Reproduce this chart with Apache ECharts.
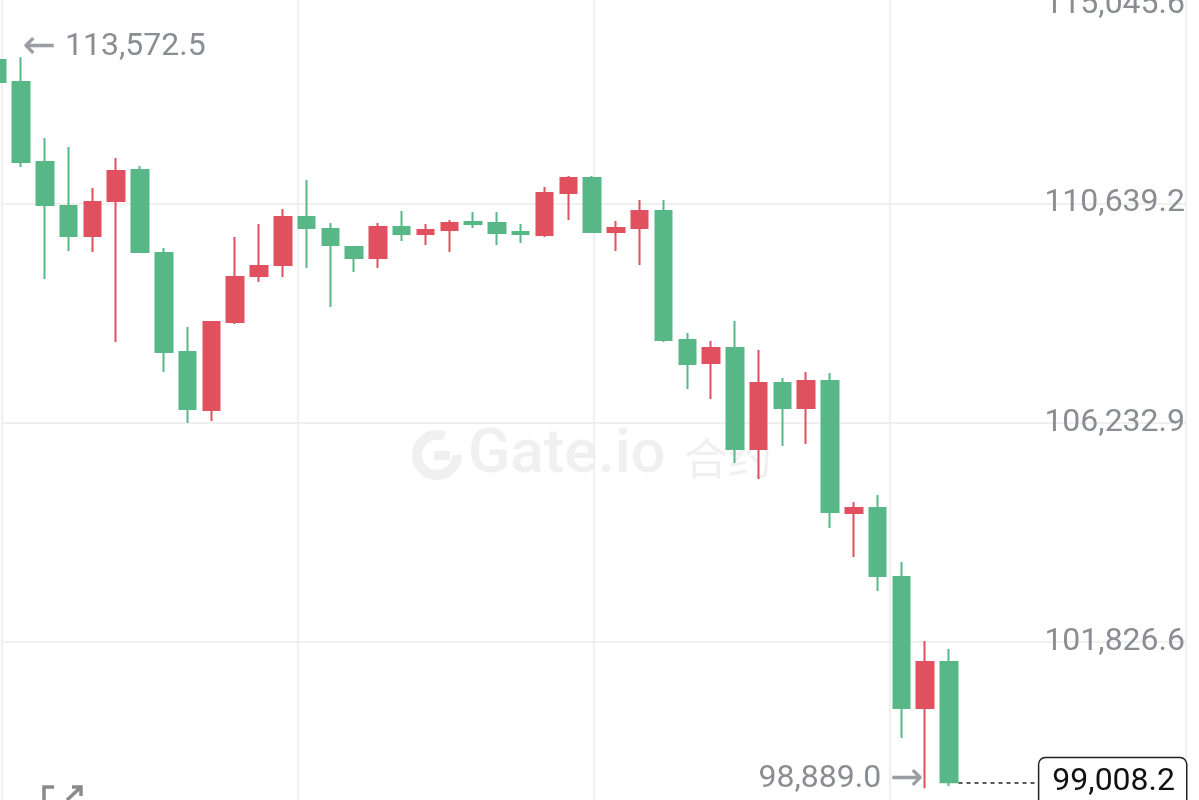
<!DOCTYPE html>
<html>
<head>
<meta charset="utf-8">
<script src="https://cdn.jsdelivr.net/npm/echarts@6/dist/echarts.min.js"></script>
<style>
  html, body { margin: 0; padding: 0; background: #fff; }
  #main { width: 1199px; height: 800px; }
</style>
</head>
<body>
<div id="main"></div>
<script>
// candle slots (time steps), the first one is cut off at the left edge
const candleIndex = [0, 1, 2, 3, 4, 5, 6, 7, 8, 9, 10, 11, 12, 13, 14, 15, 16, 17, 18, 19, 20,
  21, 22, 23, 24, 25, 26, 27, 28, 29, 30, 31, 32, 33, 34, 35, 36, 37, 38, 39, 40];
const openPrices = [113517.7, 113075.8, 111468.8, 110585.0, 109982.4, 110685.4, 111308.1, 109640.9,
  107652.3, 106487.2, 108254.9, 109178.9, 109399.8, 110364.0, 110123.0, 109761.4, 109540.5, 110163.2,
  110022.5, 110102.9, 110263.6, 110243.5, 110062.7, 110002.5, 110846.1, 111147.4, 110062.7, 110143.1,
  110484.5, 107893.3, 107431.3, 107732.6, 105703.8, 107029.6, 106527.4, 107069.8, 104418.3, 104518.7,
  103132.7, 100501.3, 101425.3];
const closePrices = [113075.8, 111468.8, 110605.1, 109982.4, 110665.3, 111288.0, 109661.0, 107652.3,
  106507.3, 108254.9, 109158.8, 109379.8, 110364.0, 110143.1, 109801.6, 109540.5, 110163.2, 110022.5,
  110102.9, 110243.5, 110223.4, 110042.6, 110022.5, 110846.1, 111147.4, 110062.7, 110143.1, 110484.5,
  107893.3, 107411.2, 107732.6, 105703.8, 107029.6, 106527.4, 107069.8, 104438.4, 104518.7, 103152.8,
  100501.3, 101425.3, 99008.2];
const lowPrices = [113035.6, 111368.4, 109118.6, 109681.1, 109661.0, 107853.1, 109640.9, 107250.5,
  106226.1, 106266.3, 108214.7, 109058.4, 109158.8, 109339.6, 108556.2, 109259.2, 109339.6, 109881.9,
  109801.6, 109661.0, 110143.1, 109801.6, 109841.8, 109962.3, 110303.8, 110042.6, 109681.1, 109399.8,
  107853.1, 106909.1, 106708.2, 105422.6, 105101.2, 105764.1, 105804.3, 104117.0, 103534.4, 102851.5,
  99898.7, 98889.0, 98934.5];
const highPrices = [113557.9, 113572.5, 111950.9, 111770.1, 110946.5, 111549.2, 111388.5, 109741.3,
  108154.5, 108275.0, 109962.3, 110223.4, 110524.7, 111107.2, 110243.5, 109781.5, 110243.5, 110484.5,
  110223.4, 110303.8, 110464.5, 110464.5, 110223.4, 110966.6, 111187.6, 111187.6, 110283.7, 110705.5,
  110705.5, 108033.9, 107873.2, 108275.0, 107692.4, 107130.0, 107250.5, 107230.4, 104639.2, 104779.8,
  103434.0, 101847.1, 101686.4];
const priceTicks = [101826.6, 106232.9, 110639.2, 115045.6];
const timeTicks = [0.2, 12.64, 25.08, 37.52, 49.96];

const UP = '#e0505f';
const DOWN = '#58b786';
const GRAY = '#8a8d92';
const X_MIN = 0.2, X_MAX = 49.96;

const fmt = v => Number(v).toLocaleString('en-US', { minimumFractionDigits: 1, maximumFractionDigits: 1 });

const candles = candleIndex.map((x, i) => [x, openPrices[i], closePrices[i], lowPrices[i], highPrices[i]]);
const lastX = candleIndex[candleIndex.length - 1];
const lastClose = closePrices[closePrices.length - 1];
const topTick = priceTicks[priceTicks.length - 1];

// arrow glyphs come from DejaVu, Roboto draws them too small
const arrowRich = {
  arr: { fontFamily: 'DejaVu Sans', fontSize: 40, color: '#9a9da2', padding: [0, 9, 0, 9] }
};

const chart = echarts.init(document.getElementById('main'), null, { renderer: 'canvas' });

const option = {
  backgroundColor: '#fff',
  animation: false,
  textStyle: { fontFamily: 'Roboto' },
  grid: { left: 2, right: 13, top: -16, bottom: 0, outerBoundsMode: 'none' },
  xAxis: {
    type: 'value',
    min: X_MIN,
    max: X_MAX,
    axisLine: { show: false },
    axisTick: { show: false, customValues: timeTicks },
    axisLabel: { show: false },
    splitLine: { show: true, lineStyle: { color: '#ebebeb', width: 1.5 } }
  },
  yAxis: {
    type: 'value',
    position: 'right',
    min: 98653,
    max: topTick,
    axisLine: { show: false },
    axisTick: { show: false, customValues: priceTicks },
    axisLabel: {
      inside: true,
      margin: 1,
      customValues: priceTicks,
      color: GRAY,
      fontSize: 32,
      fontFamily: 'Roboto',
      formatter: v => (v === topTick ? '{top|' + fmt(v) + '}' : fmt(v)),
      rich: { top: { padding: [42, 0, 0, 0], fontSize: 32, color: GRAY, fontFamily: 'Roboto' } }
    },
    splitLine: { show: true, lineStyle: { color: '#ebebeb', width: 1.5 } }
  },
  graphic: [
    // watermark
    { type: 'arc', z: -10, silent: true,
      shape: { cx: 437, cy: 455, r: 20, startAngle: 0, endAngle: Math.PI * 1.62, clockwise: true },
      style: { stroke: '#f0f0f0', lineWidth: 10, fill: null } },
    { type: 'rect', z: -10, silent: true, shape: { x: 434, y: 451, width: 16, height: 9 }, style: { fill: '#f0f0f0' } },
    { type: 'text', z: -10, silent: true, x: 468, y: 456,
      style: { text: 'Gate.io', font: '500 62px Roboto', fill: '#f0f0f0', verticalAlign: 'middle' } },
    { type: 'text', z: -10, silent: true, x: 684, y: 458,
      style: { text: '合约', font: '44px "Noto Sans CJK SC"', fill: '#f0f0f0', verticalAlign: 'middle' } },
    // expand icon
    { type: 'polyline', silent: true, shape: { points: [[44, 801], [44, 787], [54, 787]] },
      style: { stroke: '#8a8a8a', lineWidth: 3.5, fill: null } },
    { type: 'polyline', silent: true, shape: { points: [[67, 800], [81, 787]] },
      style: { stroke: '#8a8a8a', lineWidth: 3.5, fill: null } },
    { type: 'polyline', silent: true, shape: { points: [[72, 787], [81, 787], [81, 796]] },
      style: { stroke: '#8a8a8a', lineWidth: 3.5, fill: null } }
  ],
  series: [
    {
      type: 'candlestick',
      clip: false,
      barWidth: 17,
      data: candles,
      itemStyle: {
        color: UP,
        color0: DOWN,
        borderColor: UP,
        borderColor0: DOWN,
        borderWidth: 2
      },
      markPoint: {
        silent: true,
        symbol: 'circle',
        symbolSize: 1,
        itemStyle: { color: 'rgba(0,0,0,0)' },
        label: { color: GRAY, fontSize: 32, fontFamily: 'Roboto', rich: arrowRich },
        data: [
          { type: 'max', valueDim: 'highest',
            label: { position: 'right', distance: 0, offset: [-8, -10],
              formatter: p => '{arr|←}' + fmt(p.value) } },
          { type: 'min', valueDim: 'lowest',
            label: { position: 'left', distance: 0, offset: [8, -9],
              formatter: p => fmt(p.value) + '{arr|→}' } }
        ]
      },
      markLine: {
        silent: true,
        symbol: ['none', 'none'],
        lineStyle: { type: [4, 4], color: '#222', width: 1.5 },
        label: {
          position: 'insideEnd',
          distance: 0,
          formatter: fmt(lastClose),
          backgroundColor: '#fff',
          borderColor: '#222',
          borderWidth: 1.5,
          borderRadius: 6,
          padding: [6, 11, 6, 13],
          lineHeight: 36,
          fontSize: 32,
          fontFamily: 'Roboto',
          color: '#111'
        },
        data: [[{ coord: [lastX + 0.4, lastClose] }, { coord: [X_MAX, lastClose] }]]
      }
    }
  ]
};

chart.setOption(option);
</script>
</body>
</html>
